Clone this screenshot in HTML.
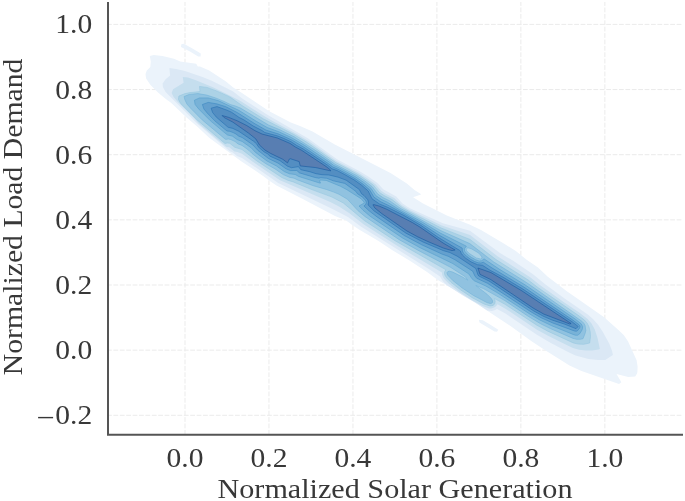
<!DOCTYPE html><html><head><meta charset="utf-8"><style>html,body{margin:0;padding:0;background:#fff;width:685px;height:501px;overflow:hidden}svg{display:block;filter:blur(0.35px)}text{font-family:"Liberation Serif",serif;fill:#383838}</style></head><body><svg width="685" height="501" viewBox="0 0 685 501"><rect width="685" height="501" fill="#fff"/><g stroke="#ebebeb" stroke-width="1" stroke-dasharray="4.8 1.6"><line x1="185.00" y1="434.7" x2="185.00" y2="2.0"/><line x1="268.97" y1="434.7" x2="268.97" y2="2.0"/><line x1="352.94" y1="434.7" x2="352.94" y2="2.0"/><line x1="436.91" y1="434.7" x2="436.91" y2="2.0"/><line x1="520.88" y1="434.7" x2="520.88" y2="2.0"/><line x1="604.85" y1="434.7" x2="604.85" y2="2.0"/><line x1="107.0" y1="415.30" x2="683.0" y2="415.30"/><line x1="107.0" y1="350.15" x2="683.0" y2="350.15"/><line x1="107.0" y1="285.00" x2="683.0" y2="285.00"/><line x1="107.0" y1="219.85" x2="683.0" y2="219.85"/><line x1="107.0" y1="154.70" x2="683.0" y2="154.70"/><line x1="107.0" y1="89.55" x2="683.0" y2="89.55"/><line x1="107.0" y1="24.40" x2="683.0" y2="24.40"/></g><g><path d="M619.0 384.1L581.5 371.1L569.5 365.4L544.8 350.1L531.2 341.1L511.2 326.4L475.2 302.7L462.8 295.5L451.8 288.2L437.8 280.1L427.8 272.6L411.0 261.4L392.8 250.4L378.5 241.1L359.0 229.6L352.2 225.1L346.2 220.4L335.0 216.1L302.8 198.9L276.5 185.6L269.0 180.6L264.5 176.9L255.2 170.4L240.8 161.1L209.2 137.7L198.0 127.2L186.0 116.9L171.0 102.7L165.8 98.9L158.0 92.4L150.3 84.8L146.1 78.5L145.6 75.0L145.6 73.8L146.8 70.5L150.3 67.0L150.8 61.5L149.8 56.0L153.8 55.1L162.5 56.1L174.0 58.8L180.2 61.6L196.2 63.8L197.8 66.6L200.0 66.6L209.2 70.6L226.0 81.6L233.2 87.6L241.2 92.4L268.8 110.9L290.8 122.4L300.0 125.9L312.5 131.6L334.8 144.6L390.5 173.1L406.8 183.6L414.5 190.1L420.8 194.1L421.0 194.6L413.1 197.2L423.0 203.6L446.8 215.6L469.5 224.4L481.0 230.1L503.8 243.4L515.8 251.1L527.0 259.9L538.0 267.4L547.5 276.4L566.5 291.1L603.8 317.1L619.0 330.4L623.9 335.2L628.1 341.5L636.6 360.2L637.6 366.8L637.4 371.8L637.1 373.5L635.2 376.6L628.2 377.1L616.5 374.1L621.4 382.2L619.0 384.1ZM181.3 44.2L183.8 43.7L192.0 48.2L200.8 53.6L200.6 56.4L198.2 56.4L190.0 51.5L181.0 46.9ZM478.8 319.8L482.8 320.2L490.0 324.5L498.3 329.8L497.0 331.8L494.5 331.4L487.0 327.0L479.5 322.6Z" fill="#ebf3fb" stroke="#deebf7" stroke-width="0.7" stroke-opacity="0.0"/><path d="M605.2 360.0L597.8 359.9L588.5 358.9L575.5 355.6L568.5 352.3L549.5 342.2L536.5 334.6L505.0 313.3L497.0 308.9L494.5 310.2L491.8 310.9L487.2 310.5L475.2 302.6L462.8 295.3L446.9 285.2L442.9 281.2L440.0 276.4L430.0 269.7L360.8 226.6L348.0 217.1L331.5 208.4L278.2 182.9L242.0 157.9L237.0 156.0L232.8 152.5L229.8 151.3L197.0 123.6L165.6 92.0L162.9 87.0L162.6 83.5L165.6 79.2L170.1 75.5L169.4 68.0L176.2 68.9L185.0 70.9L202.5 76.9L211.2 80.4L232.8 91.2L242.2 98.5L266.5 114.2L307.8 138.3L337.4 159.5L359.2 171.0L368.2 176.5L377.5 183.1L383.2 189.2L396.2 196.5L402.5 203.5L409.8 208.2L442.8 223.2L470.0 230.8L500.0 253.0L512.8 260.6L533.0 274.2L545.2 284.3L565.3 299.0L587.8 314.5L593.0 319.0L598.1 324.8L602.7 331.8L609.2 343.5L612.1 351.0L612.9 355.0L605.2 360.0Z" fill="#dbe8f5" stroke="#ccdff1" stroke-width="0.7" stroke-opacity="0.0"/><path d="M592.0 350.5L585.8 350.6L579.0 349.8L573.0 348.0L568.2 345.8L548.5 336.0L537.0 329.7L505.0 308.4L497.5 304.3L496.0 306.3L494.2 307.6L491.2 308.4L489.2 308.4L482.5 306.1L471.0 299.8L459.0 291.8L449.2 284.1L445.2 280.0L443.2 277.4L442.2 275.0L441.9 272.5L397.2 245.8L363.9 224.5L349.8 213.6L339.0 206.5L330.8 202.2L280.0 180.2L253.1 162.0L242.0 153.7L237.5 151.9L234.5 151.4L229.2 147.2L226.8 147.1L225.8 146.5L198.5 123.6L194.1 118.2L177.6 101.8L173.6 97.0L171.6 93.0L173.1 89.2L183.6 82.8L182.8 76.9L188.0 77.4L196.5 80.4L213.5 87.6L227.8 94.4L240.5 101.0L260.0 113.5L270.8 119.9L296.8 133.9L309.2 141.6L336.5 161.0L358.2 172.6L366.8 177.9L375.8 184.5L381.2 190.8L385.2 193.5L394.2 198.1L401.2 204.8L408.8 209.5L441.8 225.6L470.0 235.1L497.5 256.3L530.5 277.5L540.2 285.2L563.2 301.8L579.2 312.5L587.6 319.0L591.5 323.5L594.7 329.2L597.4 337.5L599.9 349.0L598.5 349.6L592.0 350.5Z" fill="#c5deee" stroke="#b2d2e8" stroke-width="0.7" stroke-opacity="0.0"/><path d="M583.8 344.3L578.2 344.1L573.2 342.9L547.8 331.2L536.8 325.2L505.0 304.3L494.5 298.5L495.2 301.5L494.7 304.0L493.0 305.4L490.0 306.0L483.8 303.9L472.2 297.7L460.5 289.8L451.0 282.3L447.0 278.3L445.2 275.8L444.5 273.8L444.7 271.5L445.9 269.8L395.0 240.7L364.5 220.7L343.2 202.9L332.0 197.1L311.8 189.6L293.2 181.9L288.2 180.4L281.8 177.5L256.8 160.9L242.0 149.5L234.8 147.3L229.8 143.3L227.2 143.0L225.0 143.5L197.0 119.9L180.9 103.8L178.4 99.5L178.9 96.0L185.0 93.6L189.8 92.6L200.0 91.6L199.5 86.4L207.0 87.4L216.5 90.9L227.8 95.9L230.8 97.5L242.0 105.5L263.5 118.9L293.8 134.4L306.1 141.8L335.8 162.6L348.0 168.9L360.2 175.8L373.2 184.9L379.5 192.5L384.0 195.5L392.0 199.5L402.0 207.4L409.8 211.9L441.0 227.9L470.0 239.4L495.9 259.5L528.2 280.0L538.2 287.7L577.5 314.8L584.5 320.1L587.2 323.2L589.0 326.8L590.2 331.8L590.5 336.5L589.7 343.0L583.8 344.3Z" fill="#acd2e6" stroke="#91c3de" stroke-width="0.7" stroke-opacity="0.7"/><path d="M580.5 339.3L576.5 339.3L573.0 338.4L550.8 328.8L540.5 323.7L528.5 316.5L504.8 300.6L483.8 288.8L475.8 285.5L487.0 294.2L491.0 298.2L492.4 300.2L492.6 302.5L492.0 303.1L490.2 303.5L487.0 302.6L473.5 295.5L462.0 287.8L452.8 280.5L448.0 275.5L447.1 273.8L447.0 272.5L447.8 271.6L449.5 271.2L452.8 272.1L461.8 276.6L467.8 280.2L465.2 276.7L450.5 267.3L418.8 250.7L399.2 239.7L364.8 216.4L357.8 210.5L347.5 199.3L339.0 194.3L333.8 192.1L326.2 189.4L313.2 185.7L297.5 179.9L294.0 178.2L289.8 177.4L283.2 174.6L275.0 168.9L265.5 163.5L258.5 158.6L251.8 153.3L248.8 150.3L242.0 145.4L238.0 143.9L235.0 141.5L230.8 139.6L228.2 139.0L225.8 139.4L225.0 139.0L202.2 119.9L190.4 108.0L186.9 104.0L184.9 99.8L184.1 96.5L189.2 94.4L198.0 93.6L206.8 95.1L215.5 97.9L224.0 101.4L230.8 104.7L235.5 106.0L240.5 108.1L268.5 125.0L280.2 129.9L294.2 136.8L316.0 150.7L334.8 164.0L356.8 175.6L364.9 181.0L372.2 186.7L377.8 194.1L383.0 197.6L389.8 200.9L401.0 208.7L441.0 230.7L469.8 243.6L493.8 262.0L526.5 282.5L582.2 321.5L584.0 323.5L585.1 325.5L585.8 330.5L585.2 333.2L583.0 338.7L580.5 339.3ZM480.5 259.0L481.9 258.2L482.0 257.0L478.9 253.2L471.8 249.0L468.8 248.0L467.5 248.0L466.8 248.6L466.2 249.8L466.6 250.8L469.3 253.5L476.2 257.9L480.5 259.0Z" fill="#90c2e0" stroke="#6aaed6" stroke-width="0.7" stroke-opacity="0.7"/><path d="M577.5 335.3L575.2 335.2L573.0 334.4L551.8 325.8L539.8 320.0L530.0 314.2L497.8 293.1L485.8 286.0L474.5 280.9L472.0 278.8L468.9 274.0L452.8 263.6L420.2 247.8L402.8 238.2L370.2 216.3L363.0 210.2L359.0 206.0L363.8 203.3L364.1 202.5L363.8 201.8L361.0 198.7L347.0 189.8L340.5 186.3L326.2 180.4L320.2 180.0L319.6 181.0L320.5 183.0L320.2 183.2L298.8 176.5L295.2 174.5L289.5 173.8L284.5 171.7L276.5 166.0L267.0 161.0L255.6 152.5L251.0 147.7L242.2 141.5L237.0 139.5L232.5 136.2L227.5 135.0L223.5 131.8L210.2 120.6L198.9 109.2L195.1 104.5L194.4 100.2L199.5 97.9L208.2 97.9L218.2 100.6L239.2 110.5L256.2 121.2L267.2 127.5L279.5 132.0L291.3 137.5L305.0 145.6L329.6 162.2L333.8 165.5L338.8 167.7L355.8 177.0L363.8 182.4L371.2 188.5L375.8 195.6L381.8 199.6L387.4 202.2L399.8 209.9L422.5 222.3L440.2 233.0L466.4 246.2L464.4 248.8L464.5 251.0L468.0 255.0L471.6 257.5L475.5 259.7L479.2 261.0L481.8 260.7L484.0 258.8L499.2 269.1L525.0 284.8L574.8 318.7L581.2 323.8L582.6 326.5L582.5 328.5L581.9 330.2L579.7 333.8L577.5 335.3Z" fill="#78b2d7" stroke="#4b98ca" stroke-width="0.7" stroke-opacity="0.7"/><path d="M576.2 331.3L574.2 330.9L552.8 323.0L541.0 317.7L531.2 312.0L487.5 283.3L476.8 278.3L474.9 276.0L472.7 271.2L455.0 259.8L448.2 256.3L442.0 254.1L421.7 244.8L404.2 235.5L377.0 216.9L369.3 211.0L363.9 206.0L365.8 204.3L366.3 202.5L365.8 200.8L363.9 198.5L362.2 196.9L357.2 193.5L356.0 191.5L344.8 183.4L333.2 180.8L326.8 178.3L320.8 177.7L318.8 178.2L315.0 177.5L299.5 172.9L296.8 170.5L290.5 170.6L286.0 168.8L278.0 163.1L268.5 158.5L257.7 150.2L253.0 145.0L242.5 137.7L238.5 136.0L236.0 134.0L233.2 132.6L229.8 131.3L227.0 131.0L224.2 128.8L214.5 120.6L207.4 113.2L203.9 109.0L202.4 104.5L208.2 102.4L217.0 103.9L225.8 106.7L237.5 112.7L254.8 123.7L266.2 130.2L278.0 133.8L286.0 137.3L292.2 140.2L304.0 147.3L328.5 163.7L332.8 167.0L338.0 169.2L347.8 174.5L355.0 178.6L362.5 183.8L369.6 189.8L374.0 197.2L380.8 201.8L388.0 205.2L405.0 214.4L421.5 223.8L439.8 235.5L462.2 248.1L462.4 251.0L463.5 253.2L466.8 256.5L470.5 259.2L474.6 261.5L478.2 262.8L481.0 263.0L483.3 262.2L491.8 267.8L523.8 287.0L573.2 320.3L579.1 324.8L580.0 326.0L579.7 328.0L577.5 330.7L576.2 331.3Z" fill="#64a0ce" stroke="#3181bd" stroke-width="0.7" stroke-opacity="0.7"/><path d="M576.0 328.7L564.8 324.2L552.5 320.2L543.8 316.5L533.8 311.0L489.0 281.0L478.8 276.0L477.8 274.5L475.8 268.5L457.2 256.2L449.8 252.5L443.5 250.7L423.0 242.0L406.0 233.2L374.2 211.0L368.1 205.0L368.5 202.2L367.8 199.8L364.0 195.5L361.5 193.7L359.3 189.5L346.2 180.2L338.2 177.2L332.0 175.7L328.8 175.0L322.0 174.7L316.0 173.7L309.8 171.7L300.8 169.7L298.5 166.7L291.5 167.7L287.5 166.2L279.8 160.5L270.0 156.2L267.8 154.0L263.8 151.7L259.8 148.2L258.0 146.5L256.8 144.0L253.5 141.2L238.8 131.3L232.8 128.4L228.2 127.3L227.2 126.5L216.4 117.2L212.6 112.5L211.1 108.2L217.0 106.6L227.0 110.2L231.5 112.2L239.2 117.5L243.8 119.8L253.2 126.0L262.0 130.5L264.8 132.5L277.2 135.8L283.5 138.3L291.2 141.8L296.5 145.3L303.0 148.8L327.5 165.1L332.0 168.8L337.2 170.6L344.8 174.6L354.0 179.8L361.5 185.1L368.2 191.0L372.0 198.8L379.5 204.0L387.0 207.0L404.2 215.6L420.5 225.1L438.5 237.5L459.5 250.3L460.4 251.0L461.3 253.5L462.5 255.1L465.7 258.2L471.0 261.8L477.5 264.7L482.5 265.3L490.2 270.3L502.8 277.0L522.5 288.8L572.2 321.8L578.2 326.5L576.0 328.7Z" fill="#538ec2" stroke="#1a68ae" stroke-width="0.7" stroke-opacity="0.7"/><path d="M330.8 170.9L315.8 167.6L300.2 165.9L299.2 161.6L290.0 158.6L289.4 159.0L287.5 162.9L283.0 159.4L270.5 153.4L265.0 150.1L259.6 145.2L255.8 138.9L248.5 133.1L232.8 122.1L224.2 117.6L222.1 115.5L228.8 117.4L237.5 120.9L246.8 125.6L254.8 130.6L262.2 134.1L277.2 137.9L290.0 143.4L295.2 146.9L301.8 150.4L326.2 166.6L329.8 169.4L330.8 170.9ZM452.0 250.6L443.5 248.1L429.2 242.1L417.8 236.9L406.8 230.9L381.8 213.6L374.9 208.0L372.9 204.8L373.8 204.6L379.2 206.1L387.0 209.4L412.5 222.6L420.0 227.1L443.2 243.1L455.1 250.0L452.0 250.6ZM569.5 323.9L543.8 314.1L533.2 308.1L490.8 279.6L480.0 274.4L477.9 268.0L491.0 272.6L521.2 290.4L571.1 323.5L569.5 323.9Z" fill="#587eb2" stroke="#08509b" stroke-width="0.7" stroke-opacity="0.7"/></g><path d="M108.0 2.0 V434.7 H683.0" fill="none" stroke="#555555" stroke-width="2"/><text x="92.2" y="33.4" font-size="27" text-anchor="end" textLength="36.9" lengthAdjust="spacingAndGlyphs">1.0</text><text x="92.2" y="98.5" font-size="27" text-anchor="end" textLength="36.9" lengthAdjust="spacingAndGlyphs">0.8</text><text x="92.2" y="163.7" font-size="27" text-anchor="end" textLength="36.9" lengthAdjust="spacingAndGlyphs">0.6</text><text x="92.2" y="228.9" font-size="27" text-anchor="end" textLength="36.9" lengthAdjust="spacingAndGlyphs">0.4</text><text x="92.2" y="294.0" font-size="27" text-anchor="end" textLength="36.9" lengthAdjust="spacingAndGlyphs">0.2</text><text x="92.2" y="359.2" font-size="27" text-anchor="end" textLength="36.9" lengthAdjust="spacingAndGlyphs">0.0</text><text x="92.2" y="424.3" font-size="27" text-anchor="end" textLength="36.9" lengthAdjust="spacingAndGlyphs">0.2</text><rect x="38.1" y="416.9" width="15" height="1.4" fill="#383838"/><text x="185.0" y="466.8" font-size="27" text-anchor="middle" textLength="36.9" lengthAdjust="spacingAndGlyphs">0.0</text><text x="269.0" y="466.8" font-size="27" text-anchor="middle" textLength="36.9" lengthAdjust="spacingAndGlyphs">0.2</text><text x="352.9" y="466.8" font-size="27" text-anchor="middle" textLength="36.9" lengthAdjust="spacingAndGlyphs">0.4</text><text x="436.9" y="466.8" font-size="27" text-anchor="middle" textLength="36.9" lengthAdjust="spacingAndGlyphs">0.6</text><text x="520.9" y="466.8" font-size="27" text-anchor="middle" textLength="36.9" lengthAdjust="spacingAndGlyphs">0.8</text><text x="604.9" y="466.8" font-size="27" text-anchor="middle" textLength="36.9" lengthAdjust="spacingAndGlyphs">1.0</text><text x="217.5" y="497.7" font-size="27" textLength="355" lengthAdjust="spacingAndGlyphs">Normalized Solar Generation</text><text transform="translate(21.9,375.2) rotate(-90)" x="0" y="0" font-size="27" textLength="316.6" lengthAdjust="spacingAndGlyphs">Normalized Load Demand</text></svg></body></html>
